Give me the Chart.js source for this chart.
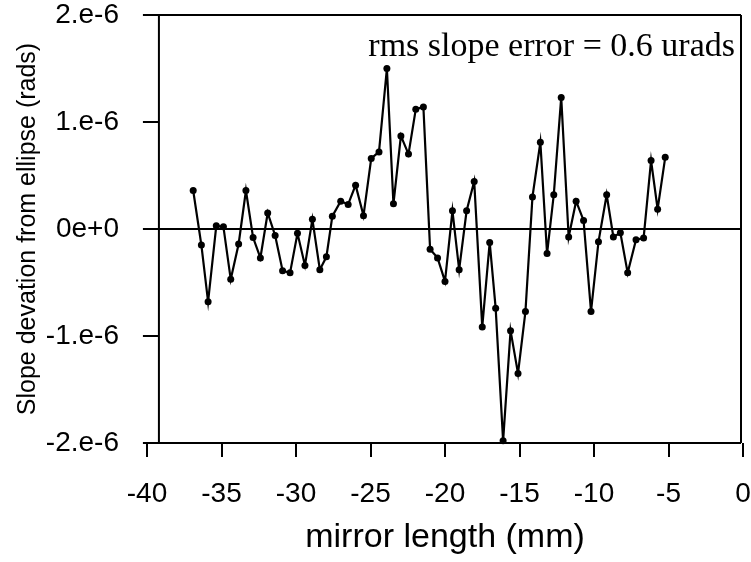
<!DOCTYPE html>
<html>
<head>
<meta charset="utf-8">
<title>Slope deviation</title>
<script src="https://cdn.jsdelivr.net/npm/chart.js@4.4.1/dist/chart.umd.min.js"></script>
<style>
  html, body { margin: 0; padding: 0; background: #fff; }
  canvas { display: block; }
</style>
</head>
<body>
<canvas id="slopeChart" width="751" height="562"></canvas>
<script>
// mirror position (mm)
const positions = [
  -36.9, -36.35, -35.9, -35.35, -34.87, -34.38, -33.85, -33.36, -32.88, -32.39,
  -31.9, -31.4, -30.9, -30.4, -29.9, -29.4, -28.9, -28.4, -27.96, -27.56,
  -27.0, -26.5, -26.0, -25.47, -24.95, -24.43, -23.9, -23.46, -22.96, -22.45,
  -21.96, -21.45, -21.0, -20.5, -20.0, -19.5, -19.05, -18.55, -18.04, -17.5,
  -17.0, -16.6, -16.1, -15.6, -15.1, -14.6, -14.13, -13.6, -13.15, -12.7,
  -12.2, -11.7, -11.2, -10.7, -10.2, -9.7, -9.15, -8.7, -8.23, -7.74,
  -7.18, -6.67, -6.17, -5.73, -5.22
];
// slope deviation in microradians
const slopeUrad = [
  0.36, -0.15, -0.68, 0.03, 0.02, -0.47, -0.14, 0.36, -0.08, -0.27,
  0.15, -0.06, -0.39, -0.41, -0.04, -0.34, 0.09, -0.38, -0.26, 0.12,
  0.26, 0.23, 0.41, 0.125, 0.66, 0.72, 1.5, 0.235, 0.87, 0.70,
  1.12, 1.14, -0.19, -0.27, -0.49, 0.17, -0.38, 0.17, 0.445, -0.915,
  -0.125, -0.74, -1.98, -0.95, -1.35, -0.77, 0.30, 0.81, -0.23, 0.32,
  1.23, -0.075, 0.26, 0.08, -0.77, -0.12, 0.32, -0.075, -0.035, -0.41,
  -0.10, -0.085, 0.64, 0.185, 0.67
];
const yTickValues = [-2e-6, -1e-6, 0, 1e-6, 2e-6];
const yTickLabels = ['-2.e-6', '-1.e-6', '0e+0', '1.e-6', '2.e-6'];
const annotation = 'rms slope error = 0.6 urads';
const yAxisAt = -39.2; // the left frame line sits a bit right of -40

const sans = '"Liberation Sans", Arial, sans-serif';

// frame, y ticks, zero line and the rms note
const framePlugin = {
  id: 'frame',
  afterDatasetsDraw(chart) {
    const { ctx, chartArea, scales: { x, y } } = chart;
    const ax = x.getPixelForValue(yAxisAt);
    const right = chartArea.right - 2;
    ctx.save();
    ctx.strokeStyle = '#000';
    ctx.lineWidth = 2;
    ctx.beginPath();
    ctx.moveTo(ax - 16, chartArea.top);
    ctx.lineTo(right, chartArea.top);
    ctx.moveTo(ax, chartArea.top);
    ctx.lineTo(ax, chartArea.bottom);
    ctx.moveTo(right, chartArea.top);
    ctx.lineTo(right, chartArea.bottom);
    ctx.moveTo(ax - 16, chartArea.bottom);
    ctx.lineTo(right, chartArea.bottom);
    yTickValues.forEach(v => {
      const py = y.getPixelForValue(v);
      ctx.moveTo(ax - 16, py);
      ctx.lineTo(v === 0 ? right : ax, py);
    });
    ctx.stroke();
    ctx.fillStyle = '#000';
    ctx.font = '34px "Liberation Serif", "Times New Roman", serif';
    ctx.textAlign = 'right';
    ctx.textBaseline = 'alphabetic';
    ctx.fillText(annotation, right - 6, 56);
    ctx.restore();
  }
};

const ctx = document.getElementById('slopeChart').getContext('2d');

const slopeChart = new Chart(ctx, {
  type: 'line',
  data: {
    datasets: [{
      data: positions.map((p, i) => ({ x: p, y: slopeUrad[i] * 1e-6 })),
      borderColor: '#000',
      backgroundColor: '#000',
      borderWidth: 2.2,
      pointRadius: 3.5,
      pointBackgroundColor: '#000',
      pointBorderWidth: 0,
      tension: 0,
      fill: false,
      clip: false
    }]
  },
  options: {
    responsive: false,
    animation: false,
    layout: { padding: { top: 15, right: 8, left: 0, bottom: 0 } },
    plugins: {
      legend: { display: false },
      tooltip: { enabled: false }
    },
    scales: {
      x: {
        type: 'linear',
        min: -40,
        max: 0,
        border: { display: false },
        grid: {
          drawOnChartArea: false,
          color: '#000',
          lineWidth: 2,
          tickLength: 14
        },
        ticks: {
          stepSize: 5,
          color: '#000',
          padding: 20,
          font: { family: sans, size: 28 }
        },
        title: {
          display: true,
          text: 'mirror length (mm)',
          color: '#000',
          padding: { top: 0, bottom: 4 },
          font: { family: sans, size: 34 }
        },
        afterFit(scale) {
          scale.height = 119;
          scale.paddingLeft = 0;
          scale.paddingRight = 0;
        }
      },
      y: {
        min: -2e-6,
        max: 2e-6,
        border: { display: false },
        grid: { display: false },
        afterBuildTicks(scale) {
          scale.ticks = yTickValues.map(v => ({ value: v }));
        },
        ticks: {
          color: '#000',
          padding: 20,
          font: { family: sans, size: 28 },
          callback: (value) => yTickLabels[yTickValues.indexOf(value)]
        },
        title: {
          display: true,
          text: 'Slope devation from ellipse (rads)',
          color: '#000',
          padding: { top: 13, bottom: 0 },
          font: { family: sans, size: 25 }
        },
        afterFit(scale) {
          scale.width = 147;
          scale.paddingTop = 0;
          scale.paddingBottom = 0;
        }
      }
    }
  },
  plugins: [framePlugin]
});
</script>
</body>
</html>
